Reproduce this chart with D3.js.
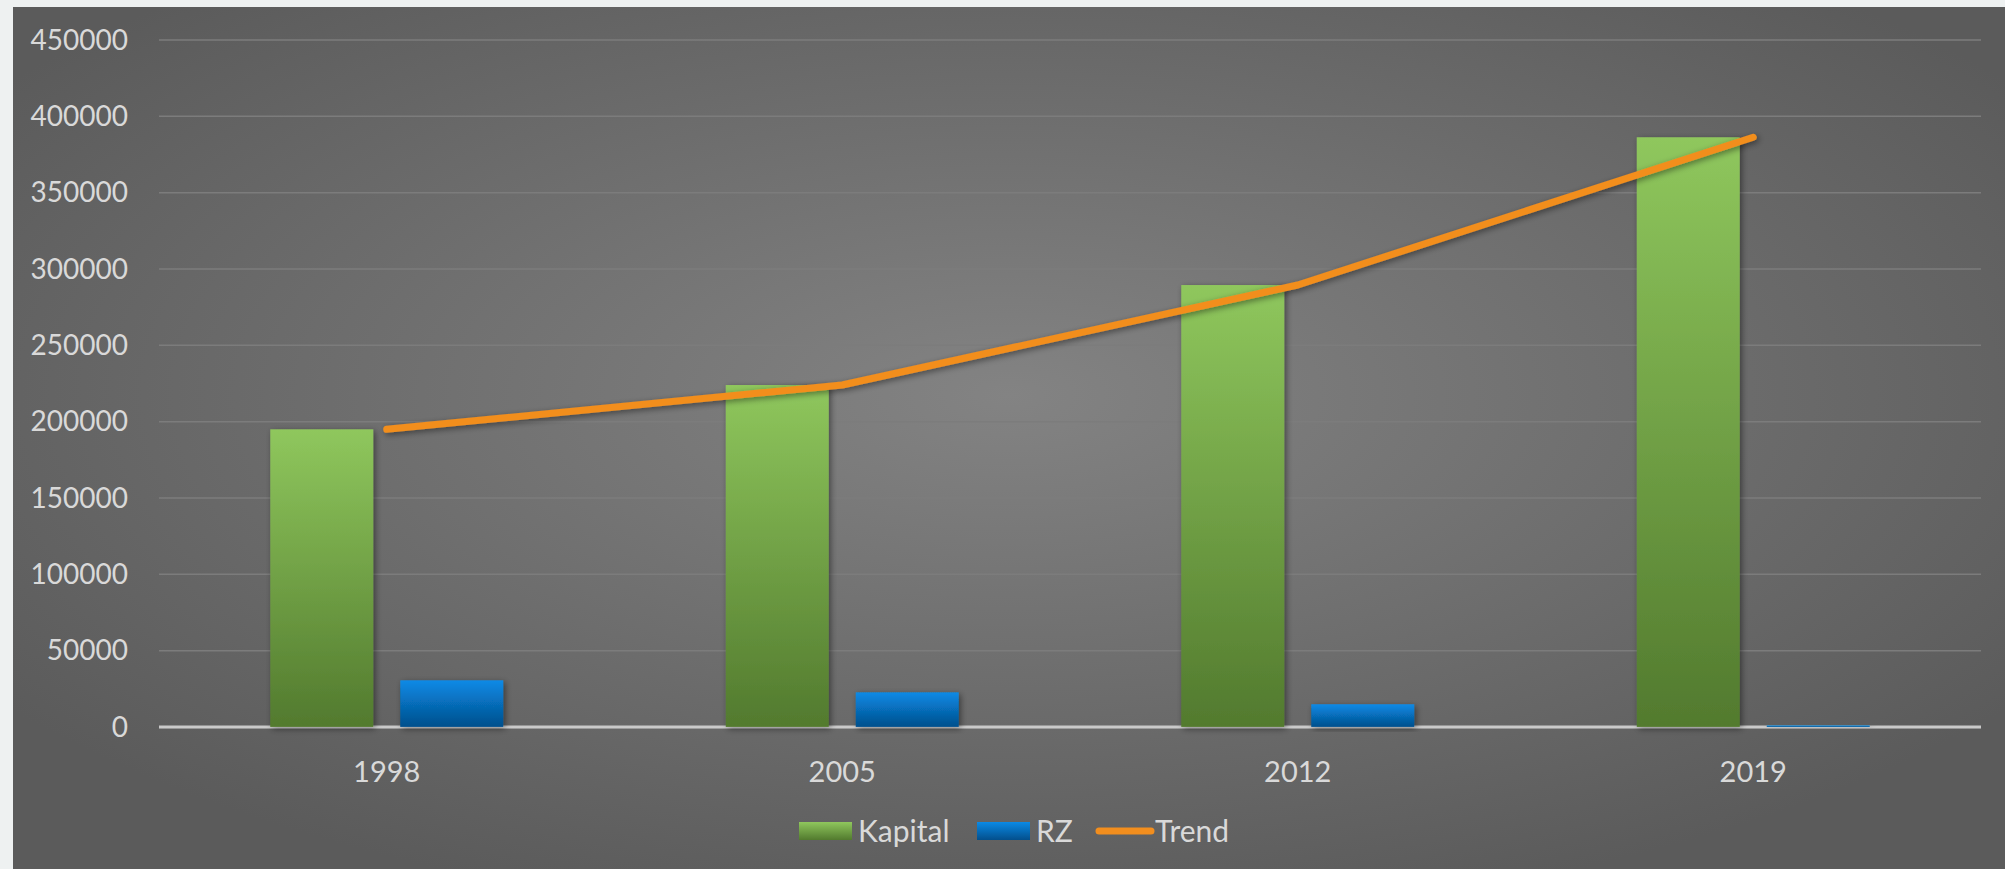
<!DOCTYPE html>
<html>
<head>
<meta charset="utf-8">
<script src="https://cdn.jsdelivr.net/npm/d3@7"></script>
<style>
  body { margin: 0; background: #eef1f1; }
  svg text { font-family: Lato, "Open Sans", sans-serif; fill: #d9d9d9; }
</style>
</head>
<body>
<svg width="2005" height="869"></svg>
<script>
// values
var years = ["1998", "2005", "2012", "2019"];
var seriesNames = ["Kapital", "RZ"];
var kapital = [195000, 224000, 289500, 386300];
var rz = [30600, 22700, 14900, 1000];
var trend = [195000, 224000, 289500, 386300];
var yTicks = [0, 50000, 100000, 150000, 200000, 250000, 300000, 350000, 400000, 450000];

var svg = d3.select("svg");
var width = +svg.attr("width");
var height = +svg.attr("height");
var margin = {top: 40, right: 24, bottom: 142, left: 159};

var defs = svg.append("defs");

var bg = defs.append("radialGradient").attr("id", "bg")
    .attr("cx", "50%").attr("cy", "45%").attr("r", "62%");
bg.append("stop").attr("offset", "0%").attr("stop-color", "#838383");
bg.append("stop").attr("offset", "100%").attr("stop-color", "#5b5b5b");

function vGrad(id, top, bottom) {
    var g = defs.append("linearGradient").attr("id", id)
        .attr("x1", 0).attr("y1", 0).attr("x2", 0).attr("y2", 1);
    g.append("stop").attr("offset", "0%").attr("stop-color", top);
    g.append("stop").attr("offset", "100%").attr("stop-color", bottom);
}
vGrad("gKapital", "#8fc75d", "#527a2e");
vGrad("gRZ", "#0a8ae6", "#034f8c");

var shadow = defs.append("filter").attr("id", "shadow")
    .attr("x", "-20%").attr("y", "-20%").attr("width", "140%").attr("height", "140%");
shadow.append("feDropShadow").attr("dx", 2).attr("dy", 2)
    .attr("stdDeviation", 3).attr("flood-color", "#000").attr("flood-opacity", 0.45);

// panel
svg.append("rect").attr("x", 13).attr("y", 7)
    .attr("width", width - 13).attr("height", height - 7)
    .attr("fill", "url(#bg)");

var x0 = d3.scaleBand().domain(years).range([margin.left, width - margin.right]).padding(0);
var x1 = d3.scaleBand().domain(seriesNames).range([0, x0.bandwidth()])
    .paddingInner(0.2077).paddingOuter(0.856);
var y = d3.scaleLinear().domain([0, 450000]).range([height - margin.bottom, margin.top]);

// gridlines
svg.append("g").selectAll("line")
    .data(yTicks.slice(1))
    .enter().append("line")
    .attr("x1", margin.left).attr("x2", width - margin.right)
    .attr("y1", function(d) { return y(d); })
    .attr("y2", function(d) { return y(d); })
    .attr("stroke", "#7c7c7c").attr("stroke-width", 1.5);

// y axis labels
svg.append("g").selectAll("text")
    .data(yTicks)
    .enter().append("text")
    .attr("x", 128)
    .attr("y", function(d) { return y(d); })
    .attr("dy", "0.35em")
    .attr("text-anchor", "end")
    .style("font-size", "28px")
    .text(function(d) { return d; });

// zero line (under the bars)
svg.append("line")
    .attr("x1", margin.left).attr("x2", width - margin.right)
    .attr("y1", y(0)).attr("y2", y(0))
    .attr("stroke", "#c8c8c8").attr("stroke-width", 3);

// bars
var rows = years.map(function(yr, i) {
    return {year: yr, values: [{key: "Kapital", v: kapital[i]}, {key: "RZ", v: rz[i]}]};
});

var groups = svg.append("g").selectAll("g")
    .data(rows)
    .enter().append("g")
    .attr("transform", function(d) { return "translate(" + x0(d.year) + ",0)"; });

groups.selectAll("rect")
    .data(function(d) { return d.values; })
    .enter().append("rect")
    .attr("x", function(d) { return x1(d.key); })
    .attr("y", function(d) { return y(d.v); })
    .attr("width", x1.bandwidth())
    .attr("height", function(d) { return y(0) - y(d.v); })
    .attr("fill", function(d) { return "url(#g" + d.key + ")"; })
    .attr("filter", "url(#shadow)");

// zero line highlight over the bars
svg.append("line")
    .attr("x1", margin.left).attr("x2", width - margin.right)
    .attr("y1", y(0) + 0.5).attr("y2", y(0) + 0.5)
    .attr("stroke", "#d0d0d0").attr("stroke-width", 1.5).attr("opacity", 0.35);

// trend line
var line = d3.line()
    .x(function(d, i) { return x0(years[i]) + x0.bandwidth() / 2; })
    .y(function(d) { return y(d); });

svg.append("path")
    .datum(trend)
    .attr("d", line)
    .attr("fill", "none")
    .attr("stroke", "#f28e1e")
    .attr("stroke-width", 7)
    .attr("stroke-linecap", "round")
    .attr("stroke-linejoin", "round")
    .attr("filter", "url(#shadow)");

// x axis labels
svg.append("g").selectAll("text")
    .data(years)
    .enter().append("text")
    .attr("x", function(d) { return x0(d) + x0.bandwidth() / 2; })
    .attr("y", 772)
    .attr("dy", "0.35em")
    .attr("text-anchor", "middle")
    .style("font-size", "29px")
    .text(function(d) { return d; });

// legend
var legend = svg.append("g").attr("transform", "translate(0,831)");
var legendItems = [
    {name: "Kapital", x: 799, type: "rect", fill: "url(#gKapital)"},
    {name: "RZ", x: 977, type: "rect", fill: "url(#gRZ)"},
    {name: "Trend", x: 1096, type: "line", fill: "#f28e1e"}
];
legendItems.forEach(function(it) {
    if (it.type === "rect") {
        legend.append("rect").attr("x", it.x).attr("y", -9)
            .attr("width", 53).attr("height", 18).attr("fill", it.fill);
    } else {
        legend.append("line").attr("x1", it.x + 3).attr("x2", it.x + 55)
            .attr("y1", 0).attr("y2", 0)
            .attr("stroke", it.fill).attr("stroke-width", 7).attr("stroke-linecap", "round");
    }
    legend.append("text").attr("x", it.x + 59).attr("y", 0).attr("dy", "0.36em")
        .style("font-size", "30px")
        .text(it.name);
});
</script>
</body>
</html>
